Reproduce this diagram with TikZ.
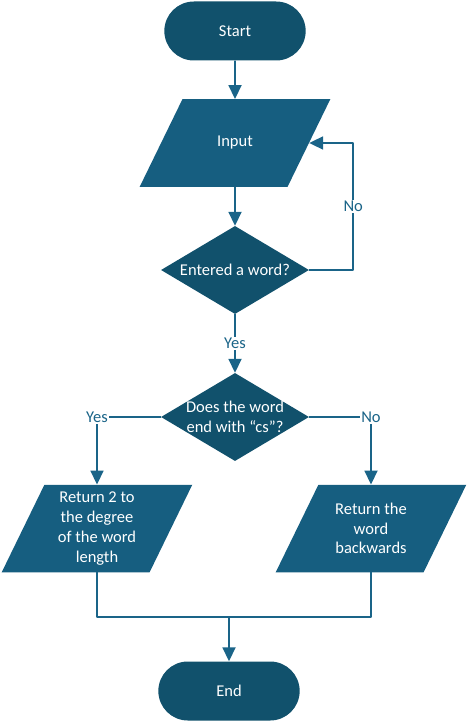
\documentclass[tikz,border=0pt]{standalone}
\usepackage{fontspec}
\setmainfont{Carlito}
\usetikzlibrary{shapes.geometric,shapes.misc,arrows.meta}
\definecolor{termfill}{RGB}{17,81,108}
\definecolor{iofill}{RGB}{22,94,128}
\definecolor{linecol}{RGB}{26,100,136}
\begin{document}
\begin{tikzpicture}[x=1pt, y=-1pt, font=\fontsize{16.5}{19.8}\selectfont, line join=round, >={Triangle[width=13pt,length=14pt]},
  term/.style={rounded rectangle, fill=termfill, text=white, minimum width=148pt, minimum height=59pt},
  io/.style={trapezium, trapezium left angle=64, trapezium right angle=116, fill=iofill, inner xsep=52.6pt, inner ysep=43.75pt},
  decision/.style={diamond, fill=termfill, minimum width=148pt, minimum height=88pt, inner sep=0pt},
  intext/.style={text=white, align=center},
  flow/.style={draw=linecol, line width=1.8pt},
  lbl/.style={text=linecol, fill=white, inner sep=1.5pt}]
\useasboundingbox (0,0) rectangle (467,722);
% nodes
\node[term] (start) at (235,31) {Start};
\node[io, label={[intext]center:Input}] (input) at (235,143) {};
\node[decision, label={[intext]center:Entered a word?}] (word) at (235,270) {};
\node[decision, label={[intext]center:Does the word\\end with “cs”?}] (ends) at (235,417) {};
\node[io, label={[intext]center:Return 2 to\\the degree\\of the word\\length}] (ret2) at (97,528.5) {};
\node[io, label={[intext]center:Return the\\word\\backwards}] (retw) at (371,528.5) {};
\coordinate (join) at (229,617);
\node[term] (end) at (229,691) {End};
% connectors
\draw[flow,->] (start) -- (input);
\draw[flow,->] (input) -- (word);
\draw[flow,->] (word.east) -- ++(44,0) |- (input.east) node[lbl,pos=.25]{No};
\draw[flow,->] (word) -- (ends) node[lbl,midway]{Yes};
\draw[flow,->] (ends.west) -| (ret2) node[lbl,pos=.5]{Yes};
\draw[flow,->] (ends.east) -| (retw) node[lbl,pos=.5]{No};
\draw[flow] (ret2) |- (join) -| (retw);
\draw[flow,->] (join) -- (end);
\end{tikzpicture}
\end{document}
